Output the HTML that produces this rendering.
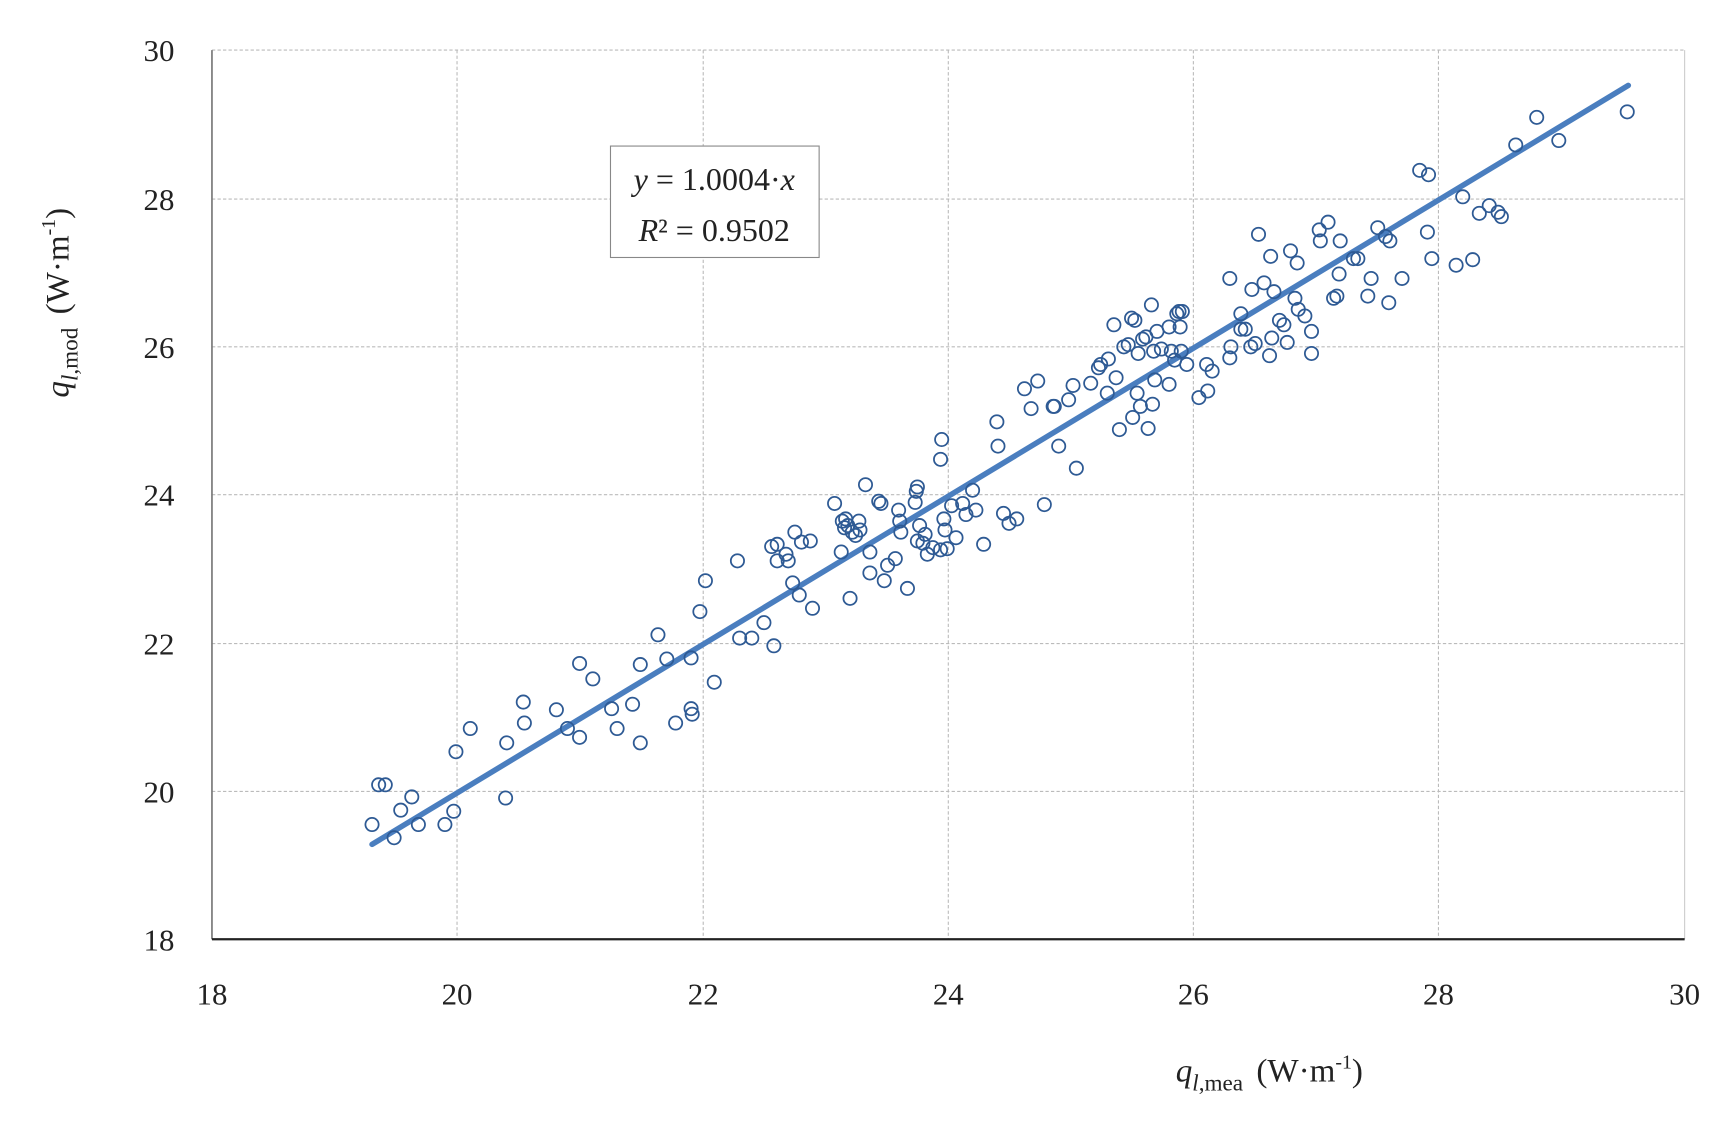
<!DOCTYPE html>
<html><head><meta charset="utf-8"><style>html,body{margin:0;padding:0;background:#fff}svg{display:block}</style></head>
<body>
<svg width="1731" height="1128" viewBox="0 -0.4 1568 1022.5" preserveAspectRatio="none" xmlns="http://www.w3.org/2000/svg" font-family="'Liberation Serif', serif">
<g stroke="#bbb" stroke-width="1" stroke-dasharray="3,2">
<line x1="192" y1="45" x2="1526" y2="45"/><line x1="192" y1="180" x2="1526" y2="180"/><line x1="192" y1="314" x2="1526" y2="314"/><line x1="192" y1="448" x2="1526" y2="448"/><line x1="192" y1="583" x2="1526" y2="583"/><line x1="192" y1="717" x2="1526" y2="717"/>
<line x1="414" y1="45" x2="414" y2="851"/><line x1="637" y1="45" x2="637" y2="851"/><line x1="859" y1="45" x2="859" y2="851"/><line x1="1081" y1="45" x2="1081" y2="851"/><line x1="1303" y1="45" x2="1303" y2="851"/>
</g>
<line x1="1526" y1="45" x2="1526" y2="851" stroke="#ccc" stroke-width="1"/>
<line x1="192" y1="45" x2="192" y2="851" stroke="#777" stroke-width="1.5"/>
<line x1="192" y1="851" x2="1526" y2="851" stroke="#222" stroke-width="2"/>
<g font-size="28" fill="#222" text-anchor="end">
<text x="158" y="55">30</text><text x="158" y="190">28</text><text x="158" y="324">26</text><text x="158" y="458">24</text><text x="158" y="593">22</text><text x="158" y="727">20</text><text x="158" y="861">18</text>
</g>
<g font-size="28" fill="#222" text-anchor="middle">
<text x="192" y="910">18</text><text x="414" y="910">20</text><text x="637" y="910">22</text><text x="859" y="910">24</text><text x="1081" y="910">26</text><text x="1303" y="910">28</text><text x="1526" y="910">30</text>
</g>
<line x1="337" y1="765" x2="1475" y2="77" stroke="#4a7ebf" stroke-width="5" stroke-linecap="round"/>
<rect x="553" y="132" width="189" height="101" fill="#fff" stroke="#888" stroke-width="1"/>
<text x="647" y="172" font-size="29" text-anchor="middle" fill="#222"><tspan font-style="italic">y</tspan> = 1.0004·<tspan font-style="italic">x</tspan></text>
<text x="647" y="218" font-size="29" text-anchor="middle" fill="#222"><tspan font-style="italic">R</tspan>² = 0.9502</text>
<text transform="translate(62,360) rotate(-90)" font-size="30" fill="#222"><tspan font-style="italic">q</tspan><tspan font-style="italic" font-size="21" dy="8">l</tspan><tspan font-size="21">,mod</tspan><tspan dy="-8" dx="12">(W·m</tspan><tspan font-size="18" dy="-12">-1</tspan><tspan dy="12">)</tspan></text>
<text x="1065" y="980" font-size="30" fill="#222"><tspan font-style="italic">q</tspan><tspan font-style="italic" font-size="21" dy="8">l</tspan><tspan font-size="21">,mea</tspan><tspan dy="-8" dx="12">(W·m</tspan><tspan font-size="18" dy="-12">-1</tspan><tspan dy="12">)</tspan></text>
<g fill="none" stroke="#2e5a94" stroke-width="1.6">
<circle cx="337" cy="747" r="6"/><circle cx="343" cy="711" r="6"/><circle cx="349" cy="711" r="6"/><circle cx="357" cy="759" r="6"/><circle cx="363" cy="734" r="6"/><circle cx="373" cy="722" r="6"/><circle cx="379" cy="747" r="6"/><circle cx="403" cy="747" r="6"/><circle cx="411" cy="735" r="6"/><circle cx="413" cy="681" r="6"/><circle cx="426" cy="660" r="6"/><circle cx="458" cy="723" r="6"/><circle cx="459" cy="673" r="6"/><circle cx="474" cy="636" r="6"/><circle cx="475" cy="655" r="6"/><circle cx="504" cy="643" r="6"/><circle cx="514" cy="660" r="6"/><circle cx="525" cy="601" r="6"/><circle cx="525" cy="668" r="6"/><circle cx="537" cy="615" r="6"/><circle cx="554" cy="642" r="6"/><circle cx="559" cy="660" r="6"/><circle cx="573" cy="638" r="6"/><circle cx="580" cy="602" r="6"/><circle cx="580" cy="673" r="6"/><circle cx="596" cy="575" r="6"/><circle cx="604" cy="597" r="6"/><circle cx="612" cy="655" r="6"/><circle cx="626" cy="596" r="6"/><circle cx="626" cy="642" r="6"/><circle cx="627" cy="647" r="6"/><circle cx="634" cy="554" r="6"/><circle cx="639" cy="526" r="6"/><circle cx="647" cy="618" r="6"/><circle cx="668" cy="508" r="6"/><circle cx="670" cy="578" r="6"/><circle cx="681" cy="578" r="6"/><circle cx="692" cy="564" r="6"/><circle cx="699" cy="495" r="6"/><circle cx="701" cy="585" r="6"/><circle cx="704" cy="508" r="6"/><circle cx="704" cy="493" r="6"/><circle cx="712" cy="502" r="6"/><circle cx="714" cy="508" r="6"/><circle cx="718" cy="528" r="6"/><circle cx="720" cy="482" r="6"/><circle cx="724" cy="539" r="6"/><circle cx="726" cy="491" r="6"/><circle cx="734" cy="490" r="6"/><circle cx="736" cy="551" r="6"/><circle cx="756" cy="456" r="6"/><circle cx="762" cy="500" r="6"/><circle cx="763" cy="472" r="6"/><circle cx="765" cy="478" r="6"/><circle cx="766" cy="470" r="6"/><circle cx="768" cy="476" r="6"/><circle cx="770" cy="542" r="6"/><circle cx="772" cy="482" r="6"/><circle cx="775" cy="485" r="6"/><circle cx="778" cy="472" r="6"/><circle cx="779" cy="480" r="6"/><circle cx="784" cy="439" r="6"/><circle cx="788" cy="500" r="6"/><circle cx="788" cy="519" r="6"/><circle cx="796" cy="454" r="6"/><circle cx="798" cy="456" r="6"/><circle cx="801" cy="526" r="6"/><circle cx="804" cy="512" r="6"/><circle cx="811" cy="506" r="6"/><circle cx="814" cy="462" r="6"/><circle cx="815" cy="472" r="6"/><circle cx="816" cy="482" r="6"/><circle cx="822" cy="533" r="6"/><circle cx="829" cy="455" r="6"/><circle cx="830" cy="445" r="6"/><circle cx="831" cy="441" r="6"/><circle cx="833" cy="476" r="6"/><circle cx="831" cy="490" r="6"/><circle cx="836" cy="492" r="6"/><circle cx="838" cy="484" r="6"/><circle cx="840" cy="502" r="6"/><circle cx="845" cy="496" r="6"/><circle cx="852" cy="498" r="6"/><circle cx="852" cy="416" r="6"/><circle cx="853" cy="398" r="6"/><circle cx="855" cy="470" r="6"/><circle cx="856" cy="480" r="6"/><circle cx="858" cy="497" r="6"/><circle cx="862" cy="458" r="6"/><circle cx="866" cy="487" r="6"/><circle cx="872" cy="456" r="6"/><circle cx="875" cy="466" r="6"/><circle cx="881" cy="444" r="6"/><circle cx="884" cy="462" r="6"/><circle cx="891" cy="493" r="6"/><circle cx="903" cy="382" r="6"/><circle cx="904" cy="404" r="6"/><circle cx="909" cy="465" r="6"/><circle cx="914" cy="474" r="6"/><circle cx="921" cy="470" r="6"/><circle cx="928" cy="352" r="6"/><circle cx="934" cy="370" r="6"/><circle cx="940" cy="345" r="6"/><circle cx="946" cy="457" r="6"/><circle cx="954" cy="368" r="6"/><circle cx="955" cy="368" r="6"/><circle cx="959" cy="404" r="6"/><circle cx="968" cy="362" r="6"/><circle cx="972" cy="349" r="6"/><circle cx="975" cy="424" r="6"/><circle cx="988" cy="347" r="6"/><circle cx="995" cy="333" r="6"/><circle cx="997" cy="330" r="6"/><circle cx="1003" cy="356" r="6"/><circle cx="1004" cy="325" r="6"/><circle cx="1009" cy="294" r="6"/><circle cx="1011" cy="342" r="6"/><circle cx="1014" cy="389" r="6"/><circle cx="1018" cy="314" r="6"/><circle cx="1022" cy="312" r="6"/><circle cx="1025" cy="288" r="6"/><circle cx="1026" cy="378" r="6"/><circle cx="1028" cy="290" r="6"/><circle cx="1030" cy="356" r="6"/><circle cx="1031" cy="320" r="6"/><circle cx="1033" cy="368" r="6"/><circle cx="1035" cy="307" r="6"/><circle cx="1038" cy="305" r="6"/><circle cx="1040" cy="388" r="6"/><circle cx="1043" cy="276" r="6"/><circle cx="1044" cy="366" r="6"/><circle cx="1045" cy="318" r="6"/><circle cx="1046" cy="344" r="6"/><circle cx="1048" cy="300" r="6"/><circle cx="1052" cy="316" r="6"/><circle cx="1059" cy="348" r="6"/><circle cx="1059" cy="296" r="6"/><circle cx="1061" cy="318" r="6"/><circle cx="1064" cy="326" r="6"/><circle cx="1066" cy="284" r="6"/><circle cx="1068" cy="282" r="6"/><circle cx="1069" cy="296" r="6"/><circle cx="1070" cy="318" r="6"/><circle cx="1071" cy="282" r="6"/><circle cx="1075" cy="330" r="6"/><circle cx="1086" cy="360" r="6"/><circle cx="1093" cy="330" r="6"/><circle cx="1094" cy="354" r="6"/><circle cx="1098" cy="336" r="6"/><circle cx="1114" cy="252" r="6"/><circle cx="1114" cy="324" r="6"/><circle cx="1115" cy="314" r="6"/><circle cx="1124" cy="284" r="6"/><circle cx="1124" cy="298" r="6"/><circle cx="1128" cy="298" r="6"/><circle cx="1133" cy="314" r="6"/><circle cx="1134" cy="262" r="6"/><circle cx="1137" cy="311" r="6"/><circle cx="1140" cy="212" r="6"/><circle cx="1145" cy="256" r="6"/><circle cx="1150" cy="322" r="6"/><circle cx="1151" cy="232" r="6"/><circle cx="1152" cy="306" r="6"/><circle cx="1154" cy="264" r="6"/><circle cx="1159" cy="290" r="6"/><circle cx="1163" cy="294" r="6"/><circle cx="1166" cy="310" r="6"/><circle cx="1169" cy="227" r="6"/><circle cx="1173" cy="270" r="6"/><circle cx="1175" cy="238" r="6"/><circle cx="1176" cy="280" r="6"/><circle cx="1182" cy="286" r="6"/><circle cx="1188" cy="300" r="6"/><circle cx="1188" cy="320" r="6"/><circle cx="1195" cy="208" r="6"/><circle cx="1196" cy="218" r="6"/><circle cx="1203" cy="201" r="6"/><circle cx="1208" cy="270" r="6"/><circle cx="1211" cy="268" r="6"/><circle cx="1213" cy="248" r="6"/><circle cx="1214" cy="218" r="6"/><circle cx="1226" cy="234" r="6"/><circle cx="1230" cy="234" r="6"/><circle cx="1239" cy="268" r="6"/><circle cx="1242" cy="252" r="6"/><circle cx="1248" cy="206" r="6"/><circle cx="1255" cy="214" r="6"/><circle cx="1258" cy="274" r="6"/><circle cx="1259" cy="218" r="6"/><circle cx="1270" cy="252" r="6"/><circle cx="1286" cy="154" r="6"/><circle cx="1293" cy="210" r="6"/><circle cx="1294" cy="158" r="6"/><circle cx="1297" cy="234" r="6"/><circle cx="1319" cy="240" r="6"/><circle cx="1325" cy="178" r="6"/><circle cx="1334" cy="235" r="6"/><circle cx="1340" cy="193" r="6"/><circle cx="1349" cy="186" r="6"/><circle cx="1357" cy="192" r="6"/><circle cx="1360" cy="196" r="6"/><circle cx="1373" cy="131" r="6"/><circle cx="1392" cy="106" r="6"/><circle cx="1412" cy="127" r="6"/><circle cx="1474" cy="101" r="6"/>
</g>
</svg>
</body></html>
